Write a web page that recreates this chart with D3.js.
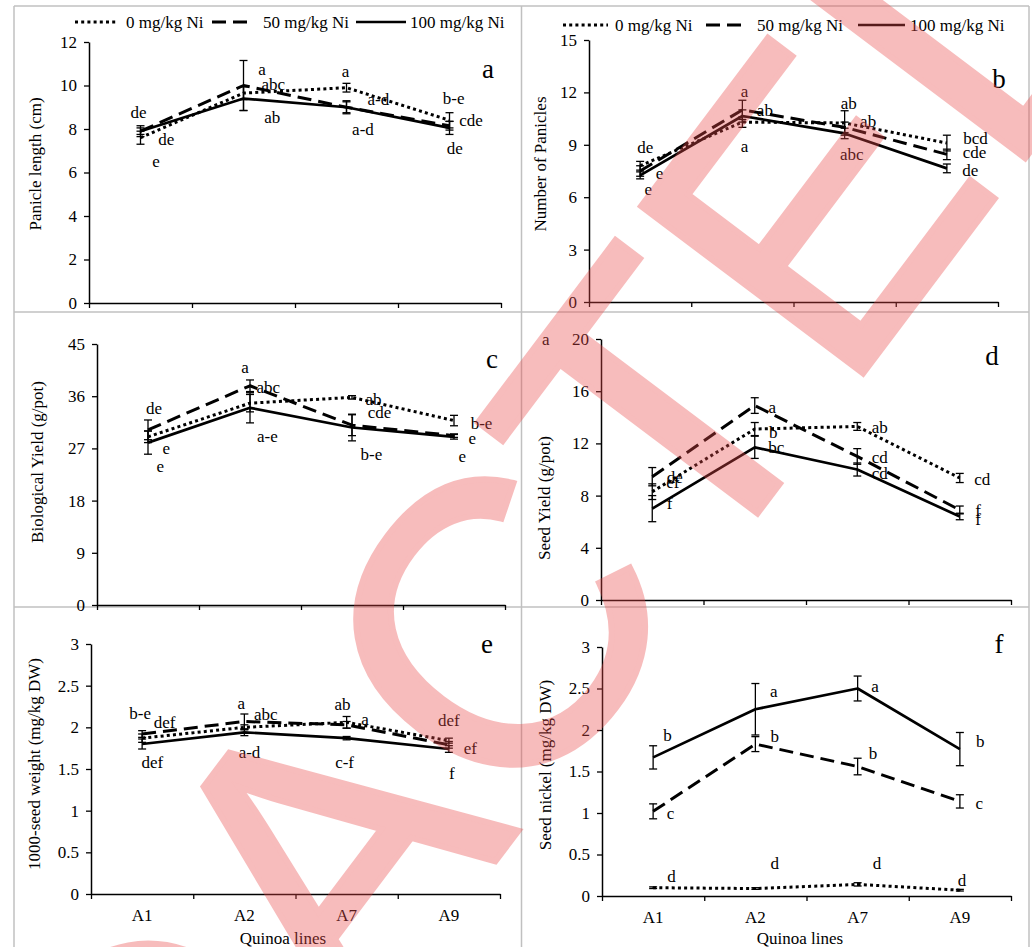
<!DOCTYPE html>
<html><head><meta charset="utf-8">
<script src="https://cdn.jsdelivr.net/npm/d3@7"></script>
<style>
body{margin:0;background:#fff}
svg{display:block}
svg text{font-family:"Liberation Serif","DejaVu Serif",serif !important;}
svg text.wm{font-family:"Liberation Sans","DejaVu Sans",sans-serif !important;}
</style>
</head><body>
<svg id="chart" width="1032" height="947"></svg>
<script>
// ---------------- DATA ----------------
const categories = ["A1", "A2", "A7", "A9"];
const seriesNames = ["0 mg/kg Ni", "50 mg/kg Ni", "100 mg/kg Ni"];

// (a) Panicle length (cm)
const panicleLength0   = [7.6, 9.65, 9.9, 8.4];
const panicleLength50  = [7.9, 10.0, 9.0, 8.15];
const panicleLength100 = [7.9, 9.4, 9.0, 8.05];
const panicleLengthErr0   = [0.3, 0.3, 0.2, 0.35];
const panicleLengthErr50  = [0.15, 1.15, 0.25, 0.2];
const panicleLengthErr100 = [0.25, 0.55, 0.3, 0.3];
const panicleLengthLetters = [
  ["A1", 8.78, "de", -0.02], ["A1", 7.54, "de", 0.25], ["A1", 6.53, "e", 0.15],
  ["A2", 10.76, "a", 0.18], ["A2", 10.07, "abc", 0.29], ["A2", 8.55, "ab", 0.28],
  ["A7", 10.67, "a", -0.01], ["A7", 9.38, "a-d", 0.31], ["A7", 8.0, "a-d", 0.16],
  ["A9", 9.43, "b-e", 0.04], ["A9", 8.41, "cde", 0.21], ["A9", 7.13, "de", 0.05]
];

// (b) Number of panicles
const panicles0   = [7.8, 10.3, 10.25, 9.1];
const panicles50  = [7.5, 11.0, 10.0, 8.45];
const panicles100 = [7.25, 10.65, 9.65, 7.65];
const paniclesErr0   = [0.25, 0.3, 0.7, 0.45];
const paniclesErr50  = [0.3, 0.55, 0.3, 0.3];
const paniclesErr100 = [0.2, 0.35, 0.3, 0.25];
const paniclesLetters = [
  ["A1", 8.87, "de", 0.05], ["A1", 7.38, "e", 0.19], ["A1", 6.47, "e", 0.08],
  ["A2", 12.08, "a", 0.02], ["A2", 10.99, "ab", 0.22], ["A2", 8.93, "a", 0.02],
  ["A7", 11.39, "ab", 0.04], ["A7", 10.36, "ab", 0.23], ["A7", 8.47, "abc", 0.07],
  ["A9", 9.39, "bcd", 0.28], ["A9", 8.59, "cde", 0.27], ["A9", 7.56, "de", 0.23]
];

// (c) Biological yield (g/pot)
const bioYield0   = [29.0, 34.8, 35.8, 31.8];
const bioYield50  = [30.2, 37.8, 31.0, 29.2];
const bioYield100 = [28.0, 34.0, 30.6, 29.0];
const bioYieldErr0   = [1.0, 1.5, 0.3, 0.9];
const bioYieldErr50  = [1.7, 1.0, 1.8, 0.3];
const bioYieldErr100 = [2.0, 2.6, 2.3, 0.4];
const bioYieldLetters = [
  ["A1", 33.97, "de", 0.06], ["A1", 27.07, "e", 0.18], ["A1", 23.97, "e", 0.12],
  ["A2", 41.03, "a", -0.05], ["A2", 37.59, "abc", 0.18], ["A2", 29.14, "a-e", 0.17],
  ["A7", 35.52, "ab", 0.21], ["A7", 33.28, "cde", 0.27], ["A7", 26.03, "b-e", 0.19],
  ["A9", 31.38, "b-e", 0.27], ["A9", 28.79, "e", 0.18], ["A9", 25.69, "e", 0.08]
];

// (d) Seed yield (g/pot)
const seedYield0   = [8.3, 13.1, 13.3, 9.35];
const seedYield50  = [9.45, 14.9, 11.0, 6.9];
const seedYield100 = [7.0, 11.7, 10.0, 6.4];
const seedYieldErr0   = [0.6, 0.5, 0.3, 0.35];
const seedYieldErr50  = [0.7, 0.6, 0.6, 0.3];
const seedYieldErr100 = [1.0, 0.85, 0.5, 0.25];
const seedYieldLetters = [
  ["A1", 20.0, "a", -1.04],
  ["A1", 9.43, "de", 0.22], ["A1", 9.04, "ef", 0.2], ["A1", 7.43, "f", 0.17],
  ["A2", 14.79, "a", 0.17], ["A2", 12.87, "b", 0.18], ["A2", 11.72, "bc", 0.21],
  ["A7", 13.26, "ab", 0.22], ["A7", 10.96, "cd", 0.22], ["A7", 9.73, "cd", 0.22],
  ["A9", 9.27, "cd", 0.22], ["A9", 6.9, "f", 0.18], ["A9", 6.21, "f", 0.18]
];

// (e) 1000-seed weight
const seedWeight0   = [1.87, 2.0, 2.06, 1.84];
const seedWeight50  = [1.92, 2.07, 2.03, 1.79];
const seedWeight100 = [1.80, 1.94, 1.87, 1.74];
const seedWeightErr0   = [0.05, 0.03, 0.07, 0.03];
const seedWeightErr50  = [0.04, 0.09, 0.04, 0.04];
const seedWeightErr100 = [0.06, 0.04, 0.02, 0.04];
const seedWeightLetters = [
  ["A1", 2.17, "b-e", -0.02], ["A1", 2.06, "def", 0.22], ["A1", 1.58, "def", 0.1],
  ["A2", 2.29, "a", -0.03], ["A2", 2.15, "abc", 0.21], ["A2", 1.70, "a-d", 0.05],
  ["A7", 2.28, "ab", -0.04], ["A7", 2.10, "a", 0.18], ["A7", 1.58, "c-f", -0.02],
  ["A9", 2.08, "def", 0.0], ["A9", 1.75, "ef", 0.21], ["A9", 1.45, "f", 0.03]
];

// (f) Seed nickel
const seedNickel0   = [0.10, 0.09, 0.14, 0.07];
const seedNickel50  = [1.02, 1.83, 1.56, 1.14];
const seedNickel100 = [1.67, 2.25, 2.50, 1.77];
const seedNickelErr0   = [0.01, 0.01, 0.02, 0.01];
const seedNickelErr50  = [0.09, 0.09, 0.1, 0.08];
const seedNickelErr100 = [0.14, 0.31, 0.15, 0.2];
const seedNickelLetters = [
  ["A1", 1.94, "b", 0.14], ["A1", 1.0, "c", 0.17], ["A1", 0.24, "d", 0.18],
  ["A2", 2.46, "a", 0.18], ["A2", 1.92, "b", 0.19], ["A2", 0.39, "d", 0.19],
  ["A7", 2.53, "a", 0.17], ["A7", 1.72, "b", 0.15], ["A7", 0.39, "d", 0.19],
  ["A9", 1.86, "b", 0.2], ["A9", 1.11, "c", 0.19], ["A9", 0.19, "d", 0.02]
];

const yTitles = ["Panicle length  (cm)", "Number of Panicles", "Biological Yield (g/pot)",
                 "Seed Yield (g/pot)", "1000-seed weight (mg/kg DW)", "Seed nickel (mg/kg DW)"];
const yMaxima = [12, 15, 45, 20, 3, 3];
const yStepSizes = [2, 3, 9, 4, 0.5, 0.5];
const panelLetters = ["a", "b", "c", "d", "e", "f"];
const xTitle = "Quinoa lines";
const watermarkText = "REDACTED";

// ---------------- LAYOUT ----------------
const panels = [
  {vals:[panicleLength0,panicleLength50,panicleLength100], errs:[panicleLengthErr0,panicleLengthErr50,panicleLengthErr100], letters:panicleLengthLetters,
   box:{left:89,right:501,bottom:303,top:42}, title:[35,164], letterPos:[488,78],
   legend:{y:22, items:[[75,118,126],[212,247,263],[356,406,410]]}},
  {vals:[panicles0,panicles50,panicles100], errs:[paniclesErr0,paniclesErr50,paniclesErr100], letters:paniclesLetters,
   box:{left:589,right:998,bottom:302,top:40}, title:[540,164], letterPos:[999,88],
   legend:{y:25, items:[[563,608,615],[706,745,757],[858,905,910]]}},
  {vals:[bioYield0,bioYield50,bioYield100], errs:[bioYieldErr0,bioYieldErr50,bioYieldErr100], letters:bioYieldLetters,
   box:{left:97,right:505,bottom:605,top:344}, title:[37,462], letterPos:[492,368]},
  {vals:[seedYield0,seedYield50,seedYield100], errs:[seedYieldErr0,seedYieldErr50,seedYieldErr100], letters:seedYieldLetters,
   box:{left:601,right:1011,bottom:600,top:339}, title:[544,498], letterPos:[992,365]},
  {vals:[seedWeight0,seedWeight50,seedWeight100], errs:[seedWeightErr0,seedWeightErr50,seedWeightErr100], letters:seedWeightLetters,
   box:{left:91,right:500,bottom:894,top:644}, title:[34,764], letterPos:[487,653], xTitle:[283,944]},
  {vals:[seedNickel0,seedNickel50,seedNickel100], errs:[seedNickelErr0,seedNickelErr50,seedNickelErr100], letters:seedNickelLetters,
   box:{left:602,right:1011,bottom:896,top:647}, title:[545,765], letterPos:[999,653], xTitle:[800,944]}
];

const FS = 17;
const lineStyles = [
  {dash:"3,3.2", width:3},
  {dash:"14,7", width:3},
  {dash:null, width:2.7}
];

const svg = d3.select("#chart");
svg.append("rect").attr("width",1032).attr("height",947).attr("fill","#fff");

// panel frames
const frame = svg.append("g").attr("stroke","#c0c0c0").attr("stroke-width",1.5).attr("fill","none");
[[14,6,14,947],[521.5,6,521.5,947],[1029,6,1029,947],[14,6,1029,6],[14,312,1029,312],[14,607,1029,607]]
  .forEach(s => frame.append("line").attr("x1",s[0]).attr("y1",s[1]).attr("x2",s[2]).attr("y2",s[3]));

panels.forEach((p, pi) => {
  const g = svg.append("g");
  const b = p.box;
  const y = d3.scaleLinear().domain([0, yMaxima[pi]]).range([b.bottom, b.top]);
  const xb = d3.scaleBand().domain(categories).range([b.left, b.right]).padding(0);
  const xc = c => xb(c) + xb.bandwidth() / 2;
  const xEdge = d3.scaleLinear().domain([0, categories.length]).range([b.left, b.right]);

  const yAxis = d3.axisLeft(y)
    .tickValues(d3.range(0, yMaxima[pi] + 1e-9, yStepSizes[pi]))
    .tickSize(5).tickSizeOuter(0).tickPadding(7)
    .tickFormat(d => String(+d.toFixed(2)));
  const ya = g.append("g").attr("transform", `translate(${b.left},0)`).call(yAxis);
  const xAxis = d3.axisBottom(xEdge).tickValues(d3.range(0, categories.length + 1))
    .tickSize(5).tickSizeOuter(0).tickFormat("");
  const xa = g.append("g").attr("transform", `translate(0,${b.bottom})`).call(xAxis);
  [ya, xa].forEach(a => {
    a.attr("font-size", FS);
    a.select(".domain").attr("stroke", "#000").attr("stroke-width", 1.5);
    a.selectAll(".tick line").attr("stroke", "#000").attr("stroke-width", 1.3);
    a.selectAll(".tick text").attr("fill", "#000");
  });

  if (p.xTitle) {
    g.selectAll("text.cat").data(categories).enter().append("text")
      .attr("x", d => xc(d)).attr("y", b.bottom + 27)
      .attr("text-anchor", "middle").attr("font-size", FS)
      .text(d => d);
    g.append("text").attr("x", p.xTitle[0]).attr("y", p.xTitle[1])
      .attr("text-anchor", "middle").attr("font-size", FS)
      .text(xTitle);
  }

  g.append("text")
    .attr("transform", `translate(${p.title[0]},${p.title[1]}) rotate(-90)`)
    .attr("text-anchor", "middle").attr("dominant-baseline", "central")
    .attr("font-size", FS).text(yTitles[pi]);

  g.append("text").attr("x", p.letterPos[0]).attr("y", p.letterPos[1])
    .attr("text-anchor", "middle").attr("font-size", 27)
    .text(panelLetters[pi]);

  p.vals.forEach((vals, si) => {
    const errs = p.errs[si];
    vals.forEach((v, i) => {
      const cx = xc(categories[i]);
      const e = errs[i];
      const eg = g.append("g").attr("stroke", "#000").attr("stroke-width", 1.3);
      eg.append("line").attr("x1", cx).attr("x2", cx).attr("y1", y(v - e)).attr("y2", y(v + e));
      eg.append("line").attr("x1", cx - 4).attr("x2", cx + 4).attr("y1", y(v - e)).attr("y2", y(v - e));
      eg.append("line").attr("x1", cx - 4).attr("x2", cx + 4).attr("y1", y(v + e)).attr("y2", y(v + e));
    });
  });

  const line = d3.line().x((d, i) => xc(categories[i])).y(d => y(d));
  p.vals.forEach((vals, si) => {
    const st = lineStyles[si];
    g.append("path").datum(vals).attr("d", line)
      .attr("fill", "none").attr("stroke", "#000").attr("stroke-width", st.width)
      .attr("stroke-dasharray", st.dash).attr("stroke-linejoin", "round");
  });

  g.selectAll("text.sig").data(p.letters).enter().append("text")
    .attr("x", d => xc(d[0]) + d[3] * xb.bandwidth())
    .attr("y", d => y(d[1]))
    .attr("dy", "0.33em")
    .attr("text-anchor", "middle").attr("font-size", FS)
    .text(d => d[2]);

  if (p.legend) {
    p.legend.items.forEach((it, si) => {
      const st = lineStyles[si];
      g.append("line").attr("x1", it[0]).attr("x2", it[1]).attr("y1", p.legend.y).attr("y2", p.legend.y)
        .attr("stroke", "#000").attr("stroke-width", st.width).attr("stroke-dasharray", st.dash);
      g.append("text").attr("x", it[2]).attr("y", p.legend.y).attr("dy", "0.33em")
        .attr("font-size", FS).text(seriesNames[si]);
    });
  }
});

// watermark overlay
svg.append("text").attr("class", "wm")
  .attr("transform", "rotate(-53)")
  .attr("x", -1473).attr("y", 914)
  .attr("font-size", 404)
  .attr("fill", "rgb(235,75,75)").attr("stroke", "rgb(235,75,75)").attr("stroke-width", 6)
  .attr("opacity", 0.37)
  .text(watermarkText);
</script>
</body></html>
